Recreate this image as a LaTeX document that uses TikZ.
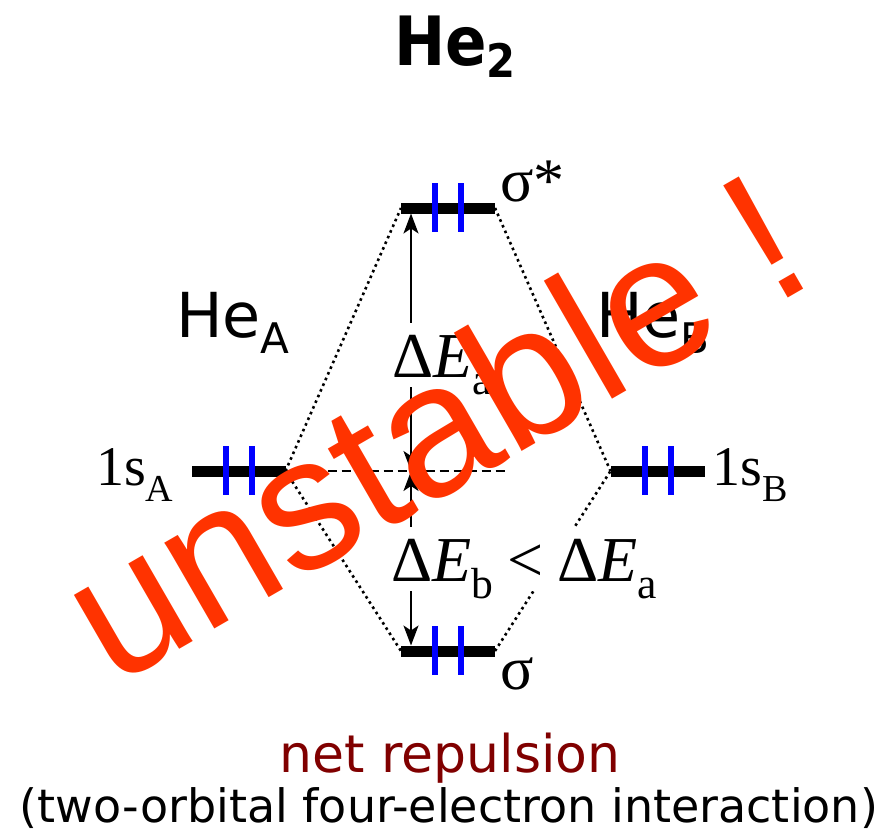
\documentclass[tikz,border=0pt]{standalone}
\usepackage{fontspec}
\usepackage{graphicx}
\setmainfont{DejaVu Sans}
\newfontfamily\serifface{Liberation Serif}
\newfontfamily\alertface{Liberation Sans}
\newfontfamily\titleface[FakeStretch=0.9]{DejaVu Sans}
\usetikzlibrary{arrows.meta,positioning}
\definecolor{spinblue}{HTML}{0000FF}
\definecolor{alertred}{HTML}{FF3300}
\definecolor{darkred}{HTML}{800000}
\newcommand\lowsub[2][0.27em]{\raisebox{-#1}{\scalebox{0.68}{#2}}}
\tikzset{
  level/.style={fill=black, minimum width=94pt, minimum height=11pt, inner sep=0pt, outer sep=0pt},
  spin/.style={draw=spinblue, line width=6pt},
  corr/.style={line width=2.6pt, dash pattern=on 2.6pt off 3.6pt},
  refline/.style={line width=2.5pt, dash pattern=on 9pt off 5pt},
  ediff/.style={{Stealth[length=20pt,width=15pt,inset=5pt]}-{Stealth[length=20pt,width=15pt,inset=5pt]}, line width=2pt},
  atomlabel/.style={font=\fontsize{62}{70}\selectfont, inner sep=0pt, anchor=base west},
  orblabel/.style={font=\serifface\fontsize{56}{64}\selectfont, inner sep=0pt, anchor=base west},
  molabel/.style={font=\serifface\fontsize{62}{70}\selectfont, inner sep=0pt, anchor=base west},
  elabel/.style={font=\serifface\fontsize{64}{70}\selectfont, fill=white, inner xsep=10pt, inner ysep=10pt, text height=44pt, text depth=0pt, anchor=base west},
  alert/.style={font=\alertface\fontsize{188}{200}\selectfont, text=alertred, inner sep=0pt, anchor=base west, rotate=30},
}
\begin{document}
\begin{tikzpicture}[x=1pt, y=-1pt]
\useasboundingbox (0,0) rectangle (888,835);
\node[font=\titleface\bfseries\fontsize{68}{74}\selectfont, anchor=base] (title) at (455,65) {He\lowsub[0.18em]{2}};
% energy levels
\node[level] (ss) at (448,208) {};
\node[level] (sA) at (238.5,471) {};
\node[level] (sB) at (657.5,471) {};
\node[level] (sg) at (448,651) {};
\foreach \lvl in {ss,sA,sB,sg}{
  \foreach \dx in {34,60}{\draw[spin] ([xshift=\dx pt]\lvl.west) ++(0,-25) -- ++(0,49);}
}
% correlation lines
\draw[corr] (sA.east) -- (ss.west); \draw[corr] (ss.east) -- (sB.west);
\draw[corr] (sA.east) -- (sg.west); \draw[corr] (sg.east) -- (sB.west);
\coordinate (mid) at (411,471);
\coordinate (refend) at (507,471);
\draw[refline] (sA.east) -- (refend);
\draw[ediff] (mid) -- (mid |- ss.south);
\draw[ediff] (mid) -- (mid |- sg.north);
% labels
\node[elabel] (dEa) at (382,377) {Δ\textit{E}\lowsub{a}};
\node[elabel] (dEb) at (381,581) {Δ\textit{E}\lowsub{b}\hspace{0.22em}<\hspace{0.22em}Δ\textit{E}\lowsub{a}};
\node[molabel] (ssl) at (500,201) {σ*};
\node[molabel] (sgl) at (500,689) {σ};
\node[orblabel] (sAl) at (96,485) {1s\lowsub[0.3em]{A}};
\node[orblabel] (sBl) at (712,485) {1s\lowsub[0.3em]{B}};
\node[atomlabel] (HeA) at (176,337) {He\lowsub{A}};
\node[atomlabel] (HeB) at (596,337) {He\lowsub{B}};
\node[font=\fontsize{52}{58}\selectfont, text=darkred, anchor=base] (net) at (450,772) {net repulsion};
\node[font=\fontsize{46}{52}\selectfont, anchor=base] (inter) at (449,822) {(two-orbital four-electron interaction)};
\node[alert] (unstable) at (113,688) {unstable !};
\end{tikzpicture}
\end{document}
